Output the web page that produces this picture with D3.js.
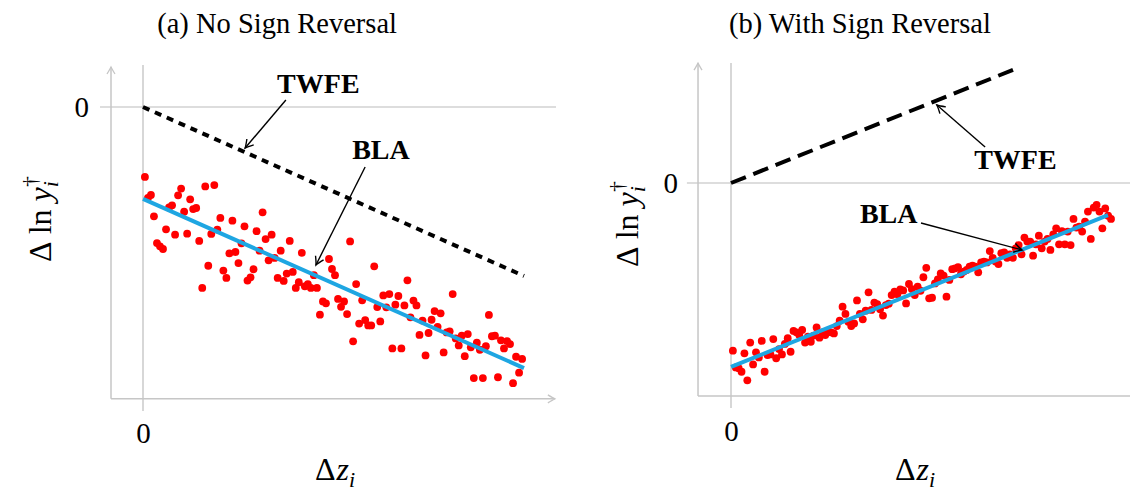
<!DOCTYPE html>
<html>
<head>
<meta charset="utf-8">
<script src="https://cdn.jsdelivr.net/npm/d3@7"></script>
<style>
  body { margin: 0; background: #fff; }
  svg, text { font-family: "Liberation Serif", "Times New Roman", Times, serif; }
</style>
</head>
<body>
<div id="chart"></div>
<script>
// values (y in arbitrary units, x samples evenly spaced on [0, 1])
const titles = ["(a) No Sign Reversal", "(b) With Sign Reversal"];

const leftY = [
  -2.59, -3.37, -3.26, -4.05, -5.04, -5.16, -5.26, -4.53, -3.72, -3.64,
  -4.73, -3.27, -3.02, -3.88, -4.69, -3.42, -3.78, -3.74, -4.96, -6.70,
  -2.94, -5.88, -4.70, -2.89, -4.54, -4.11, -6.06, -6.33, -5.42, -4.21,
  -5.37, -5.78, -5.05, -4.42, -6.43, -6.31, -6.01, -4.60, -5.32, -3.90,
  -4.89, -5.68, -4.73, -5.59, -6.33, -5.32, -6.44, -6.17, -4.96, -6.11,
  -6.70, -6.49, -5.40, -6.64, -6.56, -6.70, -6.23, -6.70, -7.69, -7.20,
  -7.27, -5.63, -6.00, -6.23, -7.11, -7.40, -7.20, -7.67, -4.98, -8.68,
  -6.56, -8.02, -7.16, -7.89, -8.09, -8.09, -5.90, -7.41, -7.94, -6.98,
  -7.42, -6.93, -8.94, -7.32, -7.00, -8.94, -7.35, -6.42, -7.79, -7.17,
  -7.35, -8.44, -7.91, -9.20, -8.37, -7.88, -7.56, -8.14, -7.64, -9.09,
  -8.35, -8.31, -6.93, -8.57, -8.83, -8.47, -9.23, -8.41, -8.90, -10.04,
  -8.73, -8.99, -10.04, -8.86, -7.70, -8.49, -8.47, -10.01, -8.64, -8.94,
  -8.67, -8.78, -10.23, -9.25, -9.84, -9.33
];

const rightY = [
  -6.21, -6.83, -6.86, -6.99, -6.31, -7.31, -5.91, -6.72, -6.27, -6.46,
  -5.85, -6.99, -6.37, -6.35, -5.78, -6.49, -6.15, -6.35, -5.96, -5.75,
  -6.25, -5.48, -5.53, -5.63, -5.44, -5.91, -5.69, -5.88, -5.65, -5.35,
  -5.73, -5.53, -5.63, -5.51, -5.53, -5.57, -5.30, -5.10, -4.58, -4.85,
  -5.14, -5.30, -5.20, -4.35, -4.85, -5.05, -4.73, -4.05, -4.70, -4.43,
  -4.49, -4.68, -4.91, -4.52, -4.47, -4.15, -4.02, -4.12, -3.94, -3.98,
  -4.46, -3.74, -3.93, -4.15, -3.84, -3.99, -3.49, -3.14, -4.27, -4.25,
  -3.72, -3.57, -3.35, -3.43, -4.21, -3.59, -3.19, -3.16, -3.12, -3.38,
  -3.28, -3.22, -3.10, -3.06, -3.10, -3.31, -2.94, -2.91, -2.94, -2.52,
  -2.77, -2.91, -3.00, -2.60, -2.57, -2.77, -2.64, -2.77, -2.42, -2.30,
  -2.64, -2.02, -2.17, -2.17, -2.69, -2.27, -1.95, -2.42, -2.17, -2.07,
  -2.48, -1.90, -1.68, -2.27, -1.78, -2.27, -1.80, -2.30, -1.33, -1.65,
  -1.62, -1.80, -1.43, -1.06, -2.07, -0.91, -0.81, -1.06, -1.68, -0.94,
  -1.21, -1.33
];

const leftTwfe = [[0, 0], [1, -6.26]];
const leftBla = [[0, -3.40], [1, -9.67]];
const rightTwfe = [[0, 0], [0.748, 4.19]];
const rightBla = [[0, -6.81], [1, -1.19]];

const width = 1130;
const height = 492;
const fontSize = 29;
const mathSize = 32;
const serif = "'Liberation Serif', 'Times New Roman', Times, serif";
const red = "#ff0000";
const blue = "#1ea6e2";
const axisGray = "#c6c6c6";
const zeroGray = "#bcbcbc";

const svg = d3.select("#chart")
  .append("svg")
  .attr("width", width)
  .attr("height", height)
  .attr("font-family", serif);

const defs = svg.append("defs");

defs.append("marker")
  .attr("id", "axisArrow")
  .attr("viewBox", "-10 -6 12 12")
  .attr("refX", 0)
  .attr("refY", 0)
  .attr("markerUnits", "userSpaceOnUse")
  .attr("markerWidth", 12)
  .attr("markerHeight", 12)
  .attr("orient", "auto")
  .append("path")
  .attr("d", "M-7,-4 Q-2,-1 0,0 Q-2,1 -7,4")
  .attr("fill", "none")
  .attr("stroke", axisGray)
  .attr("stroke-width", 1.3);

defs.append("marker")
  .attr("id", "annArrow")
  .attr("viewBox", "-10 -6 12 12")
  .attr("refX", 0)
  .attr("refY", 0)
  .attr("markerUnits", "userSpaceOnUse")
  .attr("markerWidth", 12)
  .attr("markerHeight", 12)
  .attr("orient", "auto")
  .append("path")
  .attr("d", "M-8,-4.5 Q-2.5,-1 0,0 Q-2.5,1 -8,4.5")
  .attr("fill", "none")
  .attr("stroke", "#000")
  .attr("stroke-width", 1.4);

const panels = [
  {
    title: titles[0], points: leftY, twfe: leftTwfe, bla: leftBla,
    xRange: [143, 524], y0: 107, pointRange: [0.005, 0.995],
    axisX: -0.084, axisY: -10.81, yTop: 1.48, xRight: 1.081, xArrow: true,
    zeroH: [-0.113, 1.084], zeroV: [1.56, -11.26],
    dash: "7,6", yTickPad: 22, xTickPad: 24,
    titleX: 0.352, yLabelX: 51, yLabelY: 219, xLabelX: 0.504,
    twfeText: [0.352, 0.52], twfeArrow: [[0.375, 0.26], [0.268, -1.52]],
    blaText: [0.549, -1.93], blaArrow: [[0.583, -2.22], [0.454, -5.85]]
  },
  {
    title: titles[1], points: rightY, twfe: rightTwfe, bla: rightBla,
    xRange: [731, 1108], y0: 183, pointRange: [0.005, 1.008],
    axisX: -0.0875, axisY: -7.89, yTop: 4.44, xRight: 1.08, xArrow: false,
    zeroH: [-0.117, 1.08], zeroV: [4.44, -8.33],
    dash: "16,8", yTickPad: 20, xTickPad: 24,
    titleX: 0.342, yLabelX: 638, yLabelY: 224, xLabelX: 0.488,
    twfeText: [0.645, 0.52], twfeArrow: [[0.674, 1.33], [0.546, 2.89]],
    blaText: [0.342, -1.48], blaArrow: [[0.504, -1.48], [0.772, -2.48]]
  }
];

panels.forEach(drawPanel);

function drawPanel(p) {
  const x = d3.scaleLinear().domain([0, 1]).range(p.xRange);
  const y = d3.scaleLinear().domain([0, -10]).range([p.y0, p.y0 + 270]);
  const idx = d3.scaleLinear().domain([0, p.points.length - 1]).range(p.pointRange);

  const g = svg.append("g");

  // zero reference lines
  g.append("line")
    .attr("x1", x(p.zeroH[0])).attr("x2", x(p.zeroH[1]))
    .attr("y1", y(0)).attr("y2", y(0))
    .attr("stroke", zeroGray).attr("stroke-width", 1.2);

  g.append("line")
    .attr("x1", x(0)).attr("x2", x(0))
    .attr("y1", y(p.zeroV[0])).attr("y2", y(p.zeroV[1]))
    .attr("stroke", zeroGray).attr("stroke-width", 1.2);

  // axes
  g.append("line")
    .attr("x1", x(p.axisX)).attr("x2", x(p.axisX))
    .attr("y1", y(p.axisY)).attr("y2", y(p.yTop))
    .attr("stroke", axisGray).attr("stroke-width", 1.5)
    .attr("marker-end", "url(#axisArrow)");

  g.append("line")
    .attr("x1", x(p.axisX)).attr("x2", x(p.xRight))
    .attr("y1", y(p.axisY)).attr("y2", y(p.axisY))
    .attr("stroke", axisGray).attr("stroke-width", 1.5)
    .attr("marker-end", p.xArrow ? "url(#axisArrow)" : null);

  // tick labels "0"
  const xAxis = g.append("g")
    .attr("transform", `translate(0,${y(p.axisY)})`)
    .call(d3.axisBottom(x).tickValues([0]).tickFormat(d3.format("d")).tickSize(0).tickPadding(p.xTickPad));
  const yAxis = g.append("g")
    .attr("transform", `translate(${x(p.axisX)},0)`)
    .call(d3.axisLeft(y).tickValues([0]).tickFormat(d3.format("d")).tickSize(0).tickPadding(p.yTickPad));
  [xAxis, yAxis].forEach(a => {
    a.attr("font-family", serif).attr("font-size", fontSize);
    a.select(".domain").remove();
    a.selectAll("text")
      .style("font-family", serif)
      .style("font-size", fontSize + "px")
      .attr("fill", "#000");
  });

  const line = d3.line().x(d => x(d[0])).y(d => y(d[1]));

  // scatter
  g.append("g")
    .selectAll("circle")
    .data(p.points)
    .enter()
    .append("circle")
    .attr("cx", (d, i) => x(idx(i)))
    .attr("cy", d => y(d))
    .attr("r", 3.9)
    .attr("fill", red);

  // BLA fit
  g.append("path")
    .attr("d", line(p.bla))
    .attr("fill", "none")
    .attr("stroke", blue)
    .attr("stroke-width", 4);

  // TWFE
  g.append("path")
    .attr("d", line(p.twfe))
    .attr("fill", "none")
    .attr("stroke", "#000")
    .attr("stroke-width", 4)
    .attr("stroke-dasharray", p.dash);

  // annotations
  [[p.twfeText, "TWFE", p.twfeArrow], [p.blaText, "BLA", p.blaArrow]].forEach(([pos, label, arr]) => {
    g.append("text")
      .attr("x", x(pos[0]))
      .attr("y", y(pos[1]))
      .style("font-size", "28px")
      .style("font-weight", "bold")
      .text(label);
    g.append("line")
      .attr("x1", x(arr[0][0])).attr("y1", y(arr[0][1]))
      .attr("x2", x(arr[1][0])).attr("y2", y(arr[1][1]))
      .attr("stroke", "#000")
      .attr("stroke-width", 1.4)
      .attr("marker-end", "url(#annArrow)");
  });

  // title
  svg.append("text")
    .attr("x", x(p.titleX))
    .attr("y", 33)
    .attr("text-anchor", "middle")
    .style("font-size", "28.5px")
    .text(p.title);

  // y label: Δ ln y_i^†
  const yl = svg.append("text")
    .attr("transform", `translate(${p.yLabelX},${p.yLabelY}) rotate(-90)`)
    .attr("text-anchor", "middle")
    .style("font-size", mathSize + "px");
  yl.append("tspan").text("Δ");
  yl.append("tspan").attr("dx", 7).text("ln");
  yl.append("tspan").attr("dx", 8).style("font-style", "italic").text("y");
  yl.append("tspan").attr("dy", 7).style("font-style", "italic").style("font-size", "22px").text("i");
  yl.append("tspan").attr("dx", -6).attr("dy", -21).style("font-size", "22px").text("†");

  // x label: Δz_i
  const xl = svg.append("text")
    .attr("x", x(p.xLabelX))
    .attr("y", 480)
    .attr("text-anchor", "middle")
    .style("font-size", mathSize + "px");
  xl.append("tspan").text("Δ");
  xl.append("tspan").attr("dx", 1).style("font-style", "italic").text("z");
  xl.append("tspan").attr("dy", 7).style("font-style", "italic").style("font-size", "22px").text("i");
}
</script>
</body>
</html>
